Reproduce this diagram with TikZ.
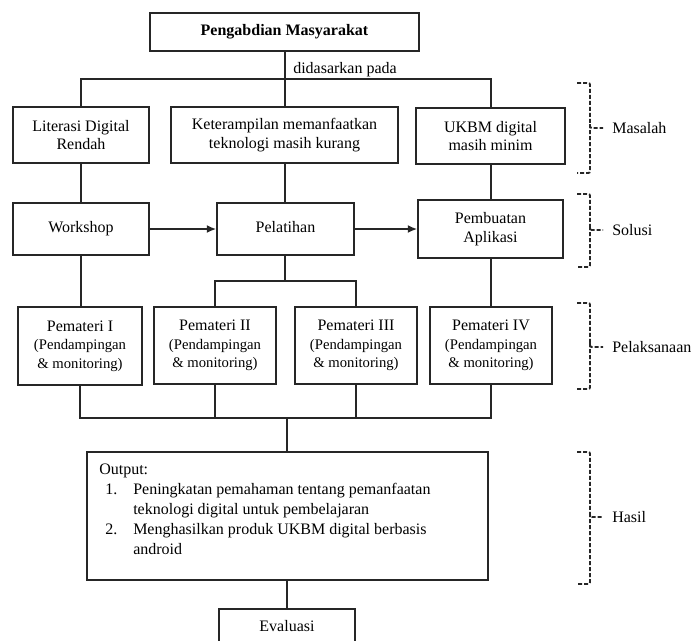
\documentclass[tikz,border=0pt]{standalone}
\usepackage{fontspec}
\setmainfont{Liberation Serif}
\usetikzlibrary{arrows.meta}
\newcommand\subfnt{\fontsize{11}{13}\selectfont}
\tikzset{
  box/.style={draw=black!85, line width=1.3pt, align=center, inner sep=0pt, font=\fontsize{12}{14}\selectfont},
  sz/.style 2 args={minimum width={#1*0.75pt}, minimum height={#2*0.75pt}},
  conn/.style={line width=1.2pt, draw=black!85},
  thickconn/.style={line width=1.9pt, draw=black!85},
  arr/.style={conn, -{Latex[length=7pt,width=6pt]}},
  brk/.style={line width=1.4pt, dash pattern=on 3pt off 1.5pt, draw=black!85},
  lbl/.style={anchor=west, inner sep=0pt, font=\fontsize{12}{14}\selectfont},
}
\begin{document}
\begin{tikzpicture}[x=0.75pt, y=-0.75pt]
\useasboundingbox (0,0) rectangle (691,640);
% boxes
\node[box, sz={269}{38}, font=\fontsize{12}{14}\selectfont\bfseries] (top) at (284.5,32) {Pengabdian Masyarakat};
\node[box, sz={136}{56}] (lit) at (81,135) {Literasi Digital\\Rendah};
\node[box, sz={227}{56}] (ket) at (284.5,135) {Keterampilan memanfaatkan\\teknologi masih kurang};
\node[box, sz={149}{56}] (ukbm) at (490.5,136) {UKBM digital\\masih minim};
\node[box, sz={136}{52}] (work) at (81,229) {Workshop};
\node[box, sz={137}{52}] (pel) at (285.5,229) {\raisebox{3pt}{Pelatihan}};
\node[box, sz={145}{58}] (pemb) at (490.5,229) {Pembuatan\\Aplikasi};
\node[box, sz={124}{78}] (p1) at (80,346) {Pemateri I\\{\subfnt (Pendampingan}\\{\subfnt \& monitoring)}};
\node[box, sz={122}{77}] (p2) at (215,345.5) {Pemateri II\\{\subfnt (Pendampingan}\\{\subfnt \& monitoring)}};
\node[box, sz={122}{77}] (p3) at (356,345.5) {Pemateri III\\{\subfnt (Pendampingan}\\{\subfnt \& monitoring)}};
\node[box, sz={122}{77}] (p4) at (491,345.5) {Pemateri IV\\{\subfnt (Pendampingan}\\{\subfnt \& monitoring)}};
\node[box, sz={401}{128}] (out) at (287.5,516) {};
\node[anchor=north west, inner sep=0pt, font=\fontsize{12}{15}\selectfont] (outtxt) at (99,460) {%
  \begin{tabular}{@{\hspace{4.5pt}}l@{\hspace{12pt}}l@{}}
  \multicolumn{2}{@{}l}{Output:}\\
  1. & Peningkatan pemahaman tentang pemanfaatan\\
     & teknologi digital untuk pembelajaran\\
  2. & Menghasilkan produk UKBM digital berbasis\\
     & android
  \end{tabular}};
\node[box, sz={136}{34}] (eval) at (287,626) {Evaluasi};
% connectors top
\coordinate (j1) at (285,79);
\draw[thickconn] (j1 |- top.south) -- (j1);
\draw[conn] (lit.north) |- (j1) -| (p4.north |- ukbm.north);
\draw[thickconn] (j1) -- (j1 |- ket.north);
\node[lbl] (dasar) at (293,70) {didasarkan pada};
% row1 -> row2
\draw[conn] (lit.south) -- (work.north);
\draw[conn] (j1 |- ket.south) -- (j1 |- pel.north);
\draw[conn] (p4.north |- ukbm.south) -- (p4.north |- pemb.north);
\draw[arr] (work.east) -- (pel.west);
\draw[arr] (pel.east) -- (pemb.west);
% row2 -> row3
\coordinate (j2) at (285,281);
\draw[conn] (work.south) -- (work.south |- p1.north);
\draw[thickconn] (j2 |- pel.south) -- (j2);
\draw[conn] (p2.north) |- (j2) -| (p3.north);
\draw[conn] (p4.north |- pemb.south) -- (p4.north);
% row3 -> output
\coordinate (j3) at (287,418);
\draw[conn] (p1.south) |- (j3) -| (p4.south);
\draw[conn] (p2.south) -- (p2.south |- j3);
\draw[conn] (p3.south) -- (p3.south |- j3);
\draw[thickconn] (j3) -- (j3 |- out.north);
\draw[conn] (out.south -| eval.north) -- (eval.north);
% brackets
\foreach \a/\m/\b/\t/\nm in {83/128/173/Masalah/bm, 194/230/267/Solusi/bs, 303/347/389/Pelaksanaan/bp, 452/517/584/Hasil/bh}{
  \draw[brk] (577,\a) -- (586,\a) .. controls (590,\a) .. (590,\a+4) -- (590,\m-4) .. controls (590,\m) .. (594,\m) -- (603,\m);
  \draw[brk] (590,\m-4) -- (590,\b-4) .. controls (590,\b) .. (586,\b) -- (577,\b);
  \node[lbl] (\nm) at (612,\m) {\t};
}
\end{tikzpicture}
\end{document}
